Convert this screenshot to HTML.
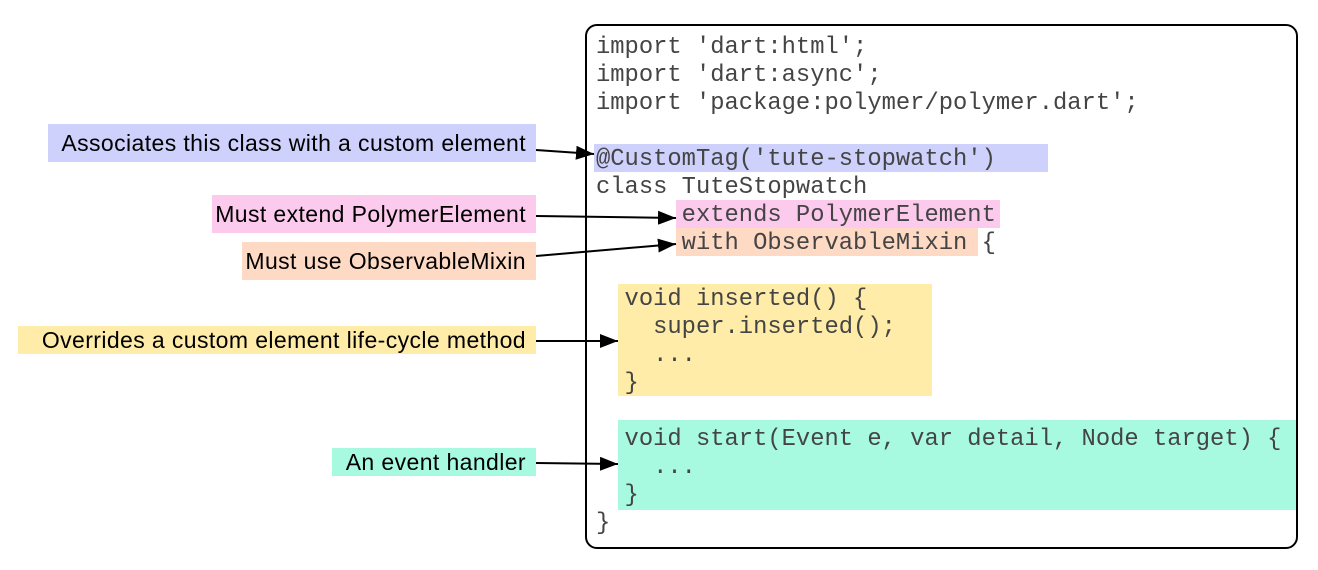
<!DOCTYPE html>
<html><head><meta charset="utf-8"><style>
body{margin:0;width:1318px;height:570px;background:#fff;position:relative;overflow:hidden}
.b{position:absolute}
.l{position:absolute;font-family:"Liberation Sans",sans-serif;font-size:23px;letter-spacing:0.4px;color:#000;text-align:right;padding-right:10px;box-sizing:border-box;display:flex;align-items:center;justify-content:flex-end;white-space:nowrap}
.c{position:absolute;font-family:"Liberation Mono",monospace;font-size:23.8px;color:#444;white-space:pre;line-height:28px;left:596px}
</style></head><body>
<div class="b" style="left:585px;top:24px;width:709px;height:521px;border:2px solid #000;border-radius:12px"></div>
<div class="b" style="left:594px;top:144px;width:454px;height:28px;background:#cdd1fb"></div>
<div class="b" style="left:676px;top:200px;width:324px;height:28px;background:#fccaec"></div>
<div class="b" style="left:676px;top:228px;width:302px;height:28px;background:#fed9c3"></div>
<div class="b" style="left:618px;top:284px;width:314px;height:112px;background:#feeca8"></div>
<div class="b" style="left:618px;top:420px;width:678px;height:90px;background:#a7fae0"></div>
<div class="c" style="top:34px">import 'dart:html';
import 'dart:async';
import 'package:polymer/polymer.dart';

@CustomTag('tute-stopwatch')
class TuteStopwatch
      extends PolymerElement
      with ObservableMixin {

  void inserted() {
    super.inserted();
    ...
  }

  void start(Event e, var detail, Node target) {
    ...
  }
}</div>
<div class="l" style="left:48px;top:124px;width:488px;height:38px;background:#cdd1fb">Associates this class with a custom element</div>
<div class="l" style="left:212px;top:195px;width:324px;height:38px;background:#fccaec">Must extend PolymerElement</div>
<div class="l" style="left:242px;top:242px;width:294px;height:38px;background:#fed9c3">Must use ObservableMixin</div>
<div class="l" style="left:18px;top:326px;width:518px;height:28px;background:#feeca8">Overrides a custom element life-cycle method</div>
<div class="l" style="left:332px;top:448px;width:204px;height:28px;background:#a7fae0">An event handler</div>
<svg class="b" style="left:0;top:0" width="1318" height="570">
<defs><marker id="a" markerWidth="18" markerHeight="14" refX="18" refY="7" orient="auto" markerUnits="userSpaceOnUse"><path d="M0,0L18,7L0,14z" fill="#000"/></marker></defs>
<g stroke="#000" stroke-width="2">
<line x1="536" y1="150" x2="594" y2="154" marker-end="url(#a)"/>
<line x1="536" y1="216" x2="676" y2="218" marker-end="url(#a)"/>
<line x1="536" y1="256" x2="676" y2="244" marker-end="url(#a)"/>
<line x1="536" y1="341" x2="618" y2="341" marker-end="url(#a)"/>
<line x1="536" y1="463" x2="618" y2="464" marker-end="url(#a)"/>
</g></svg>
</body></html>
